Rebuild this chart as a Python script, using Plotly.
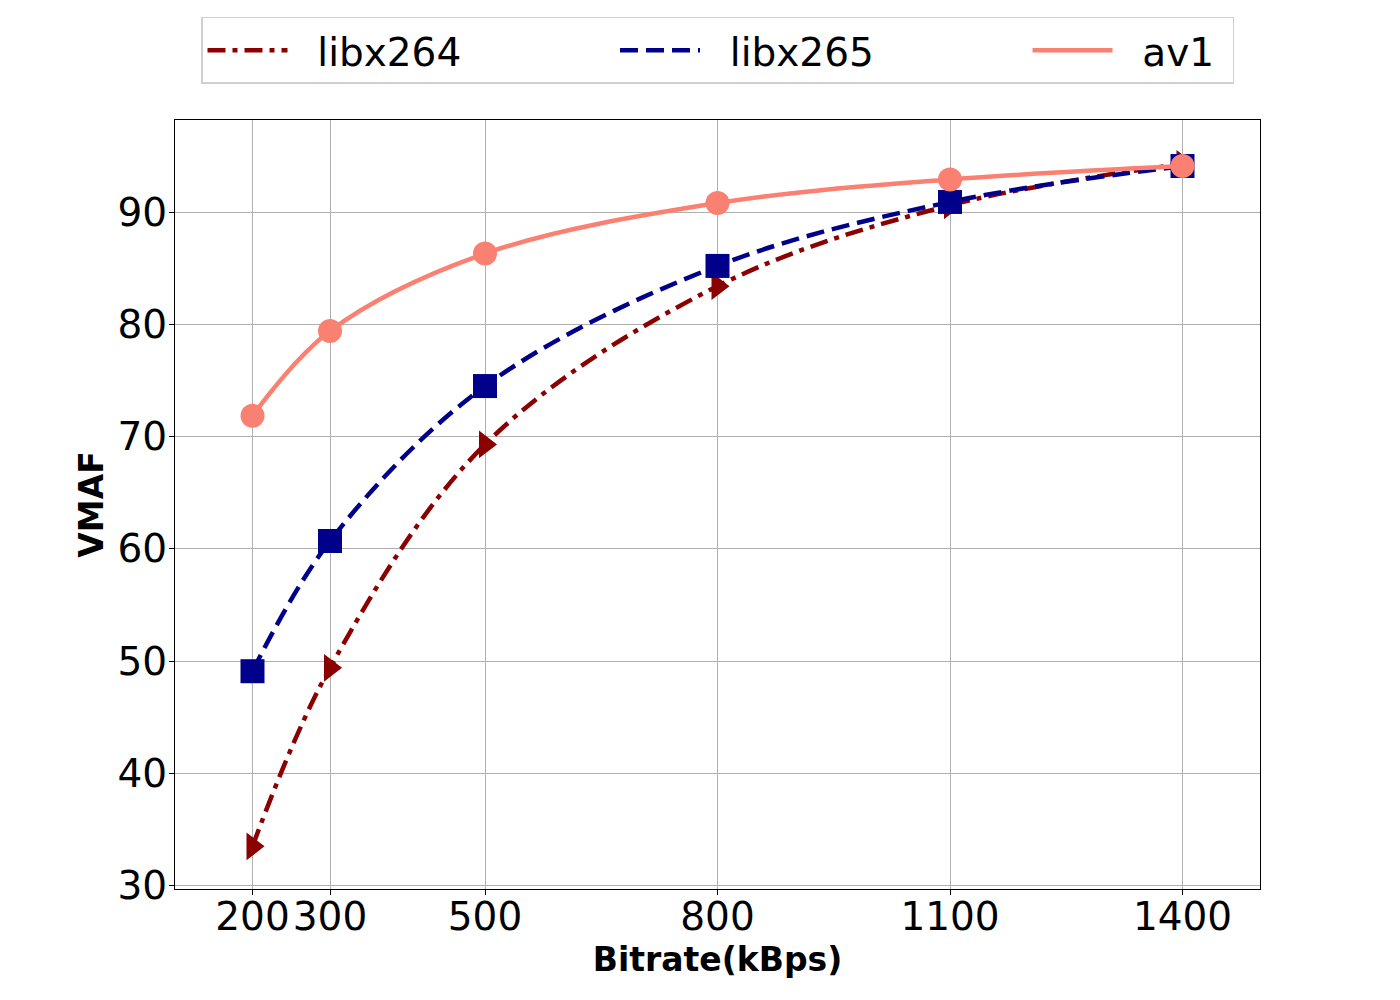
import plotly.graph_objects as go

# valores
bitrate = [200, 300, 500, 800, 1100, 1400]
vmaf_x264 = [33.5, 49.4, 69.3, 83.4, 90.6, 94.3]
vmaf_x265 = [49.1, 60.7, 74.5, 85.2, 90.9, 94.1]
vmaf_av1 = [71.85, 79.4, 86.3, 90.8, 92.9, 94.1]
y_ticks = [30, 40, 50, 60, 70, 80, 90]

NB = '\u00a0'  # espaço que não colapsa, para afastar os itens da legenda
series = [
    ('libx264', vmaf_x264, '#8b0000', '18px,7px,5px,7px', 'triangle-right', 12),
    ('libx265', vmaf_x265, '#00008b', '18px,8px', 'square', 12),
    ('av1', vmaf_av1, '#fa8072', 'solid', 'circle', 1),
]

fig = go.Figure()
for nome, valores, cor, dash, simbolo, pad in series:
    # marcadores nos pontos medidos
    fig.add_trace(go.Scatter(
        x=bitrate, y=valores, mode='markers', showlegend=False,
        marker=dict(symbol=simbolo, size=24, color=cor, line=dict(width=0)),
        hoverinfo='skip'
    ))
    # curva suavizada
    fig.add_trace(go.Scatter(
        x=bitrate, y=valores, mode='lines', name=NB * 2 + nome + NB * pad,
        line=dict(color=cor, width=4.5, dash=dash, shape='spline', smoothing=1.0)
    ))

eixo = dict(
    showline=True, linecolor='black', linewidth=1, mirror=True,
    showgrid=True, gridcolor='#b0b0b0', gridwidth=1,
    ticks='outside', ticklen=5, tickcolor='black',
    tickfont=dict(size=39, color='black'), zeroline=False,
)

fig.update_layout(
    width=1400, height=1000,
    margin=dict(l=167, r=148, t=112, b=119, autoexpand=False),
    paper_bgcolor='white', plot_bgcolor='white',
    font=dict(family='DejaVu Sans', color='black'),
    xaxis=dict(eixo, range=[100, 1500], tickvals=bitrate, ticklabelstandoff=-12,
               title=dict(text='<b>Bitrate(kBps)</b>', font=dict(size=33), standoff=10)),
    yaxis=dict(eixo, range=[29.7, 98.2], tickvals=y_ticks, ticklabelstandoff=-6,
               title=dict(text='<b>VMAF</b>', font=dict(size=33), standoff=4)),
    legend=dict(
        orientation='h', x=0.5, xanchor='center', y=1.134, yanchor='top',
        font=dict(size=39, color='black'),
        bgcolor='white', bordercolor='#d0d0d0', borderwidth=1.5,
        itemwidth=80,
    ),
)

fig.write_html('out.html')
